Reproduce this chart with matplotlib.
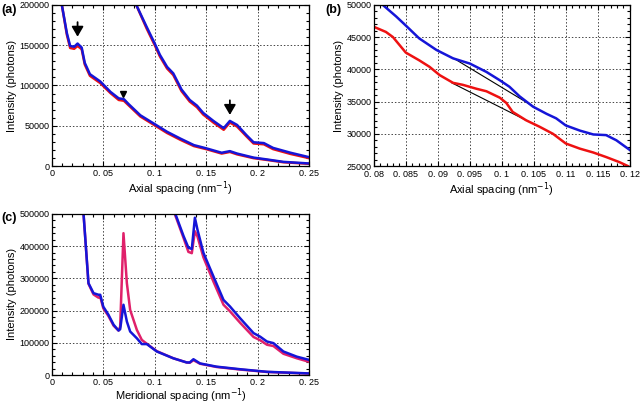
import matplotlib.pyplot as plt
import numpy as np
from matplotlib.ticker import MultipleLocator, FuncFormatter

plt.rcParams['font.family'] = ['Liberation Sans', 'DejaVu Sans']

# panel (a): axial profiles, lower pair and upper pair
a_low_x = [0.0097, 0.0146, 0.0178, 0.0217, 0.025, 0.029, 0.032, 0.037, 0.047, 0.057,
           0.065, 0.070, 0.0745, 0.086, 0.1, 0.112, 0.125, 0.138, 0.15, 0.165,
           0.173, 0.18, 0.196, 0.209, 0.225, 0.25]
a_low_blue = [200000, 165000, 149000, 148000, 152000, 147000, 128000, 114000, 105000, 92000,
              84000, 83000, 77000, 63000, 52000, 42500, 34000, 26000, 22000, 16500,
              18500, 15500, 10500, 8200, 5200, 3200]
a_low_red = [200000, 163000, 146500, 145500, 149000, 145000, 126000, 112000, 103000, 90500,
             82000, 81000, 75500, 61500, 50500, 41000, 32500, 24800, 21000, 15500,
             17500, 14500, 9800, 7600, 4700, 2800]
a_up_x = [0.082, 0.092, 0.1, 0.105, 0.112, 0.118, 0.126, 0.134, 0.141, 0.147,
          0.157, 0.167, 0.173, 0.18, 0.189, 0.196, 0.206, 0.215, 0.232, 0.25]
a_up_blue = [200000, 173000, 152000, 138000, 123000, 115000, 95000, 82000, 75000, 66000,
             56000, 47000, 56000, 51000, 38500, 29500, 28500, 22500, 16500, 11000]
a_up_red = [200000, 171000, 150000, 136000, 121000, 113000, 93000, 80000, 73000, 64000,
            54000, 45000, 54000, 49000, 37000, 28000, 27000, 21000, 15000, 9800]

# panel (b): zoom of upper pair
b_blue_x = [0.0806, 0.0814, 0.0835, 0.085, 0.0871, 0.0898, 0.0924, 0.095, 0.0976, 0.0997,
            0.1012, 0.1028, 0.1049, 0.107, 0.1085, 0.11, 0.1122, 0.1143, 0.1163, 0.1179, 0.12]
b_blue = [50500, 50000, 48200, 46800, 44800, 43000, 41700, 40900, 39600, 38300,
          37300, 35800, 34200, 33100, 32400, 31300, 30500, 29900, 29800, 29000, 27500]
b_red_x = [0.08, 0.0819, 0.083, 0.085, 0.0871, 0.0887, 0.0903, 0.0924, 0.0939, 0.096,
           0.0976, 0.0997, 0.1007, 0.1017, 0.1038, 0.1059, 0.108, 0.11, 0.1122, 0.1143,
           0.1163, 0.1184, 0.1197]
b_red = [46600, 45800, 45000, 42600, 41400, 40400, 39100, 37900, 37600, 37000,
         36600, 35600, 34800, 33400, 32100, 31100, 30000, 28500, 27700, 27100,
         26400, 25600, 25000]
b_base_blue_x = [0.0925, 0.105]
b_base_blue = [41700, 34200]
b_base_red_x = [0.0922, 0.1038]
b_base_red = [37900, 32100]

# panel (c): meridional profiles
c_low_x = [0.0308, 0.0356, 0.0405, 0.0453, 0.047, 0.050, 0.055, 0.060, 0.0648, 0.0664,
           0.0696, 0.0729, 0.0761, 0.0826, 0.0874, 0.0923, 0.102, 0.118, 0.131, 0.134,
           0.1376, 0.144, 0.16, 0.183, 0.209, 0.25]
c_low_blue = [500000, 285000, 254000, 249000, 249000, 212000, 187000, 156000, 138000, 142000,
              218000, 166000, 135000, 114000, 96000, 96000, 73000, 52000, 39000, 39000,
              49000, 36000, 26000, 18000, 10000, 5000]
c_low_red = [500000, 283000, 250000, 240000, 243000, 207000, 183000, 153000, 138000, 150000,
             440000, 285000, 202000, 140000, 109000, 97000, 74000, 52000, 39000, 38000,
             46000, 35000, 25000, 17000, 9500, 4500]
c_up_x = [0.12, 0.128, 0.1327, 0.136, 0.139, 0.1415, 0.1473, 0.157, 0.1668, 0.173,
          0.183, 0.196, 0.2024, 0.209, 0.2153, 0.225, 0.238, 0.25]
c_up_blue = [500000, 431000, 395000, 391000, 488000, 451000, 379000, 306000, 233000, 213000,
             176000, 130000, 119000, 104000, 99000, 73000, 57000, 47000]
c_up_red = [495000, 425000, 382000, 378000, 446000, 430000, 365000, 290000, 218000, 198000,
            162000, 118000, 108000, 94000, 90000, 66000, 52000, 41000]


def fmt_dec(v, pos):
    if abs(v) < 1e-12:
        return '0'
    s = ('%.3f' % v).rstrip('0')
    return s.replace('.', '. ')


def style(ax, xmaj, xmin, ymaj, ymin):
    ax.xaxis.set_major_locator(MultipleLocator(xmaj))
    ax.xaxis.set_minor_locator(MultipleLocator(xmin))
    ax.yaxis.set_major_locator(MultipleLocator(ymaj))
    ax.yaxis.set_minor_locator(MultipleLocator(ymin))
    ax.xaxis.set_major_formatter(FuncFormatter(fmt_dec))
    ax.yaxis.set_major_formatter(FuncFormatter(lambda v, p: '%d' % v))
    ax.tick_params(which='both', direction='in', top=True, right=True, labelsize=6.5,
                   width=0.8)
    ax.tick_params(axis='x', pad=2)
    ax.tick_params(axis='y', pad=1.5)
    ax.tick_params(which='major', length=3.5)
    ax.tick_params(which='minor', length=2)
    ax.grid(True, which='major', linestyle=(0, (1.5, 2)), color='#444444', linewidth=0.7)
    for sp in ax.spines.values():
        sp.set_linewidth(0.9)
    ax.set_ylabel('Intensity (photons)', fontsize=8, labelpad=2)


fig = plt.figure(figsize=(6.4, 4.05), dpi=100)
axa = fig.add_axes([0.081, 0.590, 0.402, 0.398])
axb = fig.add_axes([0.584, 0.590, 0.400, 0.398])
axc = fig.add_axes([0.081, 0.074, 0.402, 0.398])

red = '#ee1111'
blue = '#1515d8'
lw = 1.8

axa.plot(a_low_x, a_low_red, color=red, lw=lw)
axa.plot(a_up_x, a_up_red, color=red, lw=lw)
axa.plot(a_low_x, a_low_blue, color=blue, lw=lw)
axa.plot(a_up_x, a_up_blue, color=blue, lw=lw)
axa.annotate('', xy=(0.025, 157000), xytext=(0.025, 182000),
             arrowprops=dict(arrowstyle='-|>,head_width=0.35,head_length=0.6', color='black', lw=1.3))
axa.annotate('', xy=(0.173, 60000), xytext=(0.173, 85000),
             arrowprops=dict(arrowstyle='-|>,head_width=0.35,head_length=0.6', color='black', lw=1.3))
axa.plot([0.0695], [90000], marker='v', color='black', markersize=5)
axa.set_xlim(0, 0.25)
axa.set_ylim(0, 200000)
style(axa, 0.05, 0.01, 50000, 10000)
axa.set_xlabel('Axial spacing (nm$^{-1}$)', fontsize=8, labelpad=1)

axb.plot(b_base_blue_x, b_base_blue, color='black', lw=0.8)
axb.plot(b_base_red_x, b_base_red, color='black', lw=0.8)
axb.plot(b_red_x, b_red, color=red, lw=lw)
axb.plot(b_blue_x, b_blue, color=blue, lw=lw)
axb.set_xlim(0.08, 0.12)
axb.set_ylim(25000, 50000)
style(axb, 0.005, 0.001, 5000, 1000)
axb.tick_params(axis='x', pad=3)
axb.set_xlabel('Axial spacing (nm$^{-1}$)', fontsize=8, labelpad=1)

pink = '#e0206a'
axc.plot(c_low_x, c_low_red, color=pink, lw=lw)
axc.plot(c_up_x, c_up_red, color=pink, lw=lw)
axc.plot(c_low_x, c_low_blue, color=blue, lw=lw)
axc.plot(c_up_x, c_up_blue, color=blue, lw=lw)
axc.set_xlim(0, 0.25)
axc.set_ylim(0, 500000)
style(axc, 0.05, 0.01, 100000, 20000)
axc.set_xlabel('Meridional spacing (nm$^{-1}$)', fontsize=8, labelpad=0)

fig.text(0.002, 0.975, '(a)', fontsize=9, fontweight='bold', va='center')
fig.text(0.508, 0.975, '(b)', fontsize=9, fontweight='bold', va='center')
fig.text(0.002, 0.462, '(c)', fontsize=9, fontweight='bold', va='center')

fig.savefig('out.png', dpi=100)
